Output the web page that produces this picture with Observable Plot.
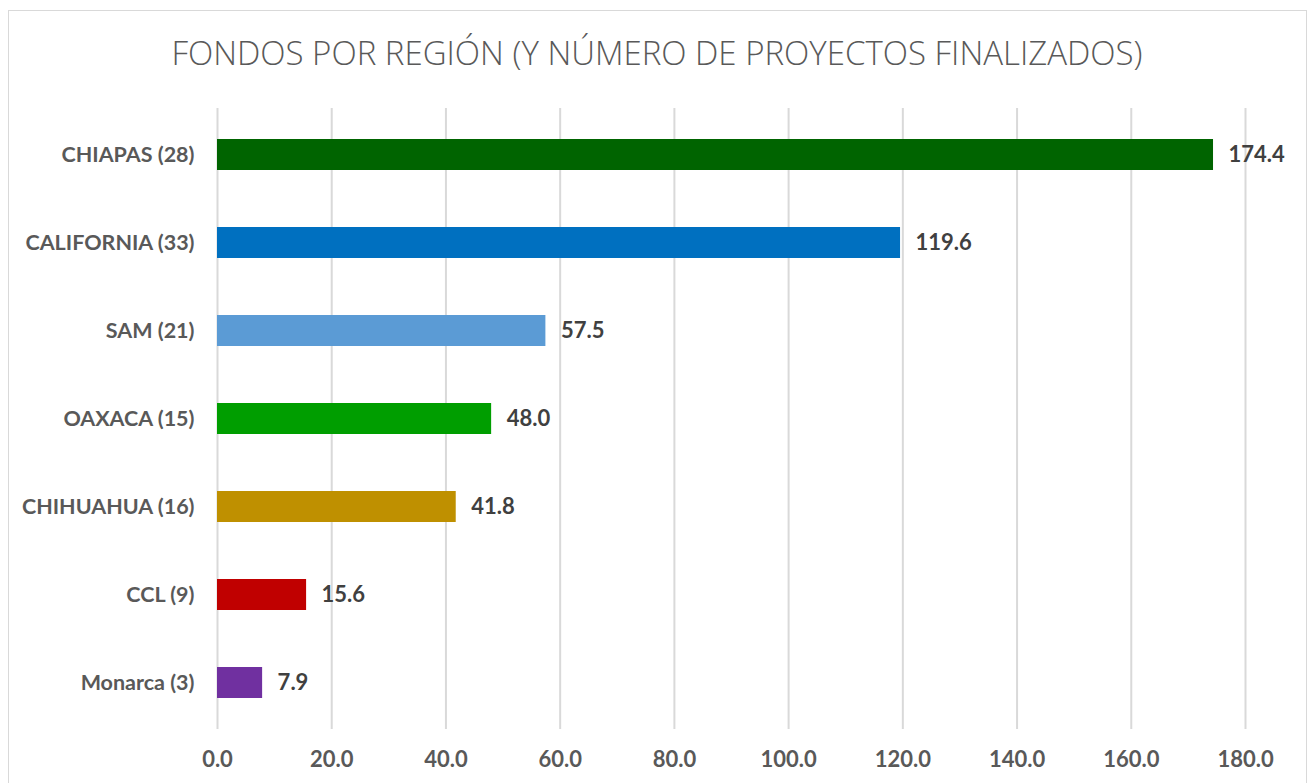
<!DOCTYPE html>
<html><head><meta charset="utf-8">
<script src="https://cdn.jsdelivr.net/npm/d3@7"></script>
<script src="https://cdn.jsdelivr.net/npm/@observablehq/plot@0.6"></script>
<style>
body{margin:0;background:#fff;width:1310px;height:783px;overflow:hidden;position:relative;font-family:Lato,"Open Sans",sans-serif;}
#frame{position:absolute;left:8px;top:10px;width:1299px;height:790px;border:1.5px solid #d9d9d9;box-sizing:border-box;}
#title{position:absolute;left:0;top:30px;width:1314px;text-align:center;font-family:"Open Sans",sans-serif;font-weight:300;font-size:33px;color:#595959;letter-spacing:0px;}
#chart{position:absolute;left:0;top:88px;}
</style></head>
<body>
<div id="frame"></div>
<div id="title">FONDOS POR REGIÓN (Y NÚMERO DE PROYECTOS FINALIZADOS)</div>
<div id="chart"></div>
<script>
const regions = ["CHIAPAS (28)","CALIFORNIA (33)","SAM (21)","OAXACA (15)","CHIHUAHUA (16)","CCL (9)","Monarca (3)"];
const fondos = [174.4,119.6,57.5,48.0,41.8,15.6,7.9];
const colors = ["#006400","#0070C0","#5B9BD5","#009E00","#BF9000","#C00000","#7030A0"];
const xTicks = [0,20,40,60,80,100,120,140,160,180];

const data = regions.map((r,i)=>({region:r, value:fondos[i], color:colors[i]}));

const chart = Plot.plot({
  width:1310, height:695,
  marginTop:20, marginBottom:54, marginLeft:217, marginRight:65,
  style:{fontFamily:"Lato, 'Open Sans', sans-serif", fontSize:"21px", fontWeight:"bold", color:"#595959", background:"transparent"},
  x:{domain:[0,180], ticks:xTicks, tickFormat:d=>d.toFixed(1), label:null},
  y:{domain:regions, label:null, paddingInner:0.65, paddingOuter:0.325},
  marks:[
    Plot.ruleX(xTicks,{stroke:"#d9d9d9", strokeWidth:2}),
    Plot.barX(data,{x:"value", y:"region", fill:"color"}),
    Plot.text(data,{x:"value", y:"region", text:d=>d.value.toFixed(1), dx:15, textAnchor:"start", fill:"#404040", fontSize:22, fontWeight:"bold"}),
    Plot.axisX({ticks:xTicks, tickFormat:d=>d.toFixed(1), tickSize:0, tickPadding:22, fontSize:22, fill:"#595959"}),
    Plot.axisY({tickSize:0, tickPadding:23, fontSize:21.5, fill:"#595959"})
  ]
});
document.getElementById("chart").appendChild(chart);
</script>
</body></html>
